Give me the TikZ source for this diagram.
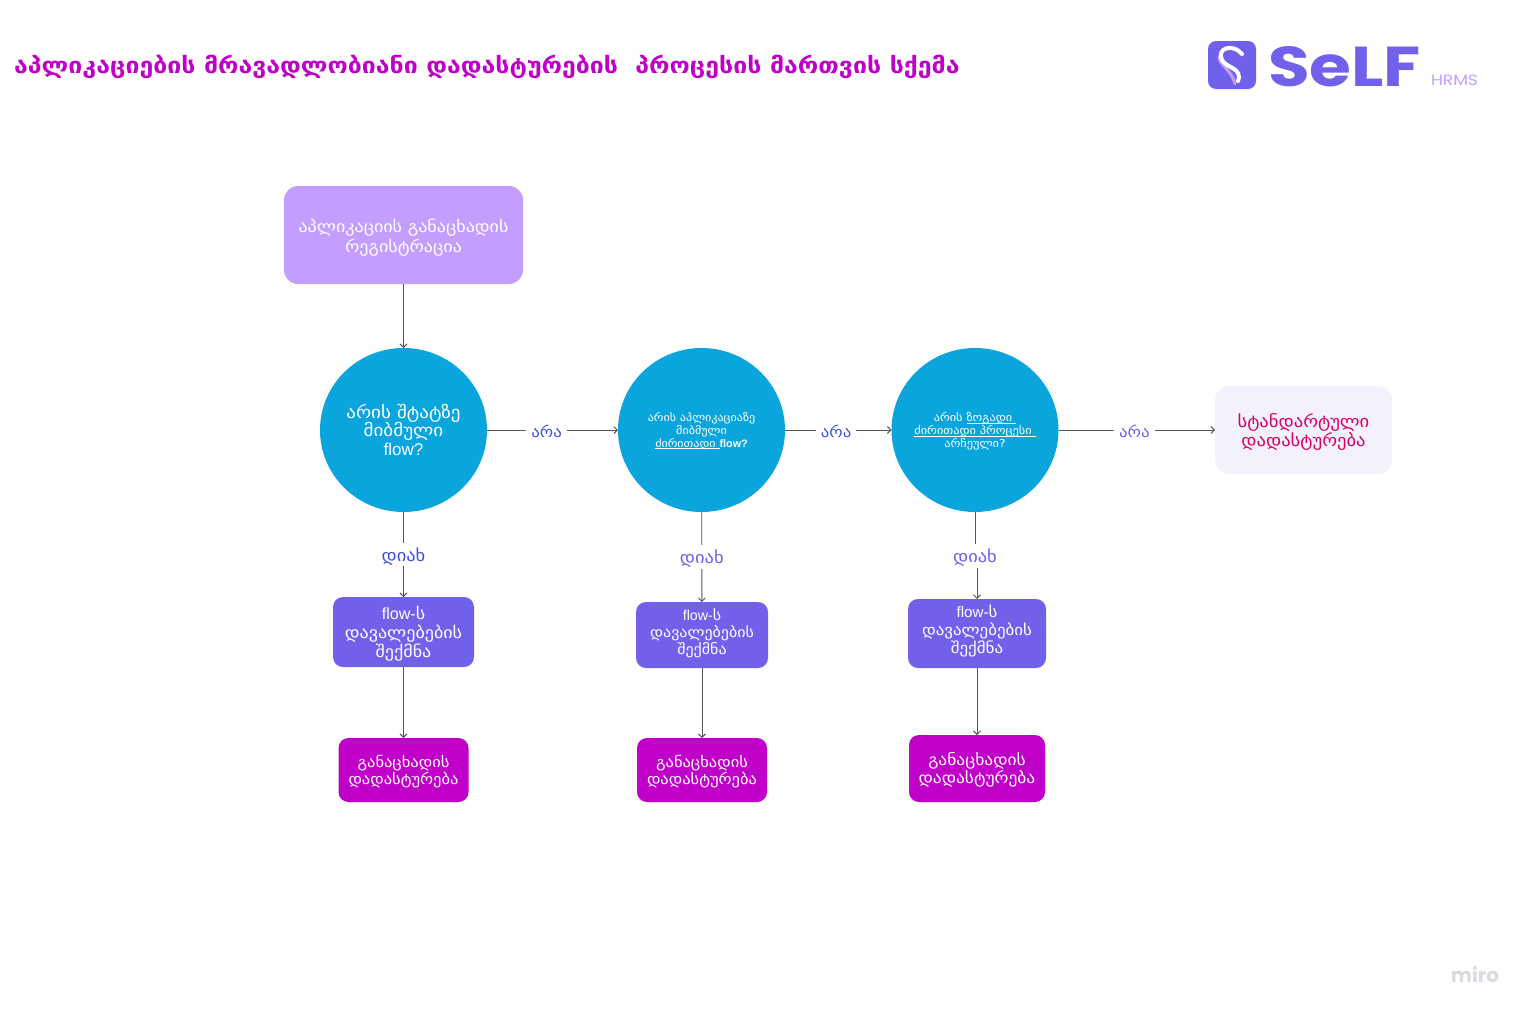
\documentclass[tikz,border=0pt]{standalone}
\usepackage{fontspec}
\usetikzlibrary{arrows.meta,shapes.geometric}
\setmainfont{Liberation Sans}
\newfontfamily\geo[FakeStretch=1.12]{DejaVu Sans}
\newfontfamily\logofont{Poppins}
\newcommand{\fs}[2]{\fontsize{#1}{#2}\selectfont}
\newcommand{\ulin}[1]{\underline{\smash{#1}}}
\newcommand{\shifted}[3]{\makebox[0pt][c]{\raisebox{#1}[0pt][0pt]{\parbox{#2}{\centering #3}}}}
\newcommand{\lowlab}[2]{\raisebox{#1}[\height][\depth]{#2}}
\definecolor{lilac}{HTML}{C39EFF}
\definecolor{skyc}{HTML}{0AA5DC}
\definecolor{taskc}{HTML}{7161EA}
\definecolor{magc}{HTML}{C000C8}
\definecolor{stdc}{HTML}{F3F1FC}
\definecolor{roseC}{HTML}{D4006A}
\definecolor{linec}{HTML}{555555}
\definecolor{yesb}{HTML}{3F51D8}
\definecolor{labc}{HTML}{6F5FE8}
\definecolor{miroc}{HTML}{D9DBE3}
\tikzset{
  boxn/.style={rectangle,inner sep=0pt,outer sep=0pt,text=white},
  circn/.style={ellipse,inner sep=0pt,outer sep=0pt,fill=skyc,text=white,minimum width=167,minimum height=164},
  conn/.style={draw=linec,line width=0.9,-{Straight Barb[length=3.5,width=7]}},
  labno/.style={fill=white,inner xsep=5pt,inner ysep=2pt,font=\geo\fs{15}{15},text=labc},
  labyes/.style={fill=white,inner xsep=3pt,inner ysep=3pt,font=\geo\fs{16.5}{16.5},text=labc}
}
\begin{document}
\begin{tikzpicture}[x=1pt,y=-1pt]
\useasboundingbox (0,0) rectangle (1534,1018);
\fill[white] (0,0) rectangle (1534,1018);
\node[anchor=west,inner sep=0,text=magc,font=\geo\bfseries\fs{22.2}{24}] (title) at (14,66.5) {აპლიკაციების მრავადლობიანი დადასტურების\ \ პროცესის მართვის სქემა};

% logo
\fill[taskc,rounded corners=8] (1208,41) rectangle (1256,89);
\draw[lilac,line width=3,line cap=round] (1219,57) .. controls (1219,65) and (1232,70) .. (1235,84);
\draw[white,line width=4,line cap=round] (1242,54) .. controls (1233,43) and (1216,48) .. (1222,60) .. controls (1226,68) and (1243,68) .. (1238,81);
\node[anchor=center,inner sep=0,text=taskc] (logotext) at (1344.5,66.5) {\resizebox{153pt}{40pt}{\logofont\bfseries SeLF}};
\node[anchor=center,inner sep=0,text=lilac] (hrms) at (1454.5,80) {\resizebox{47pt}{10.5pt}{\logofont HRMS}};

% nodes
\node[boxn,fill=lilac,rounded corners=14,minimum width=239,minimum height=98,font=\geo\fs{16.1}{20}] (reg) at (403.5,235) {\shifted{-7.5pt}{235pt}{აპლიკაციის განაცხადის\\რეგისტრაცია}};

\node[circn,font=\geo\fs{17}{18.7}] (c1) at (403.5,430) {\shifted{-4pt}{150pt}{არის შტატზე\\მიბმული\\{\rmfamily flow?}}};
\node[circn,font=\geo\fs{10.8}{12.8}] (c2) at (701.5,430) {\shifted{-3.5pt}{150pt}{არის აპლიკაციაზე\\მიბმული\\\ulin{ძირითადი\ }{\rmfamily\bfseries flow?}}};
\node[circn,font=\geo\fs{11}{12.8}] (c3) at (975,430) {\shifted{-4pt}{150pt}{არის \ulin{ზოგადი\ }\\\ulin{ძირითადი პროცესი\ }\\არჩეული?}};

\node[boxn,fill=stdc,rounded corners=14,minimum width=177,minimum height=88,font=\geo\fs{16.6}{19.5},text=roseC] (std) at (1303.5,430) {\shifted{-6.5pt}{170pt}{სტანდარტული\\დადასტურება}};

\node[boxn,fill=taskc,rounded corners=10,minimum width=141,minimum height=70,font=\geo\fs{16.1}{19}] (t1) at (403.5,632) {\shifted{-6pt}{130pt}{{\rmfamily flow-}ს\\დავალებების\\შექმნა}};
\node[boxn,fill=taskc,rounded corners=10,minimum width=132,minimum height=66,font=\geo\fs{14.25}{17}] (t2) at (702,635) {\shifted{-1.5pt}{125pt}{{\rmfamily flow-}ს\\დავალებების\\შექმნა}};
\node[boxn,fill=taskc,rounded corners=10,minimum width=138,minimum height=69,font=\geo\fs{15.1}{18}] (t3) at (977,633.5) {\shifted{-1pt}{130pt}{{\rmfamily flow-}ს\\დავალებების\\შექმნა}};

\node[boxn,fill=magc,rounded corners=10,minimum width=130,minimum height=64,font=\geo\fs{14.7}{17.5}] (d1) at (403.5,770) {\shifted{-5pt}{125pt}{განაცხადის\\დადასტურება}};
\node[boxn,fill=magc,rounded corners=10,minimum width=130,minimum height=64,font=\geo\fs{14.7}{17.5}] (d2) at (702,770) {\shifted{-5pt}{125pt}{განაცხადის\\დადასტურება}};
\node[boxn,fill=magc,rounded corners=10,minimum width=136,minimum height=67,font=\geo\fs{15.6}{18}] (d3) at (977,768.5) {\shifted{-5pt}{130pt}{განაცხადის\\დადასტურება}};

% connectors
\coordinate (m3) at (975,556);
\draw[conn] (reg) -- (c1);
\draw[conn] (c1.east) -- node[labno,text=yesb,pos=0.455]{\lowlab{-1pt}{არა}} (c2.west);
\draw[conn] (c2.east) -- node[labno,text=yesb,pos=0.48]{\lowlab{-1pt}{არა}} (c3.west);
\draw[conn] (c3.east) -- node[labno,pos=0.485]{\lowlab{-1pt}{არა}} (std.west);
\draw[conn] (c1) -- node[labyes,text=yesb,pos=0.5]{\lowlab{-2pt}{დიახ}} (t1);
\draw[conn] (c2) -- node[labyes,pos=0.5]{\lowlab{-2pt}{დიახ}} (t2);
\draw[conn] (c3.south) -- (m3) -- (m3 -| t3.north) -- (t3.north);
\node[labyes] (y3) at (m3) {\lowlab{-2pt}{დიახ}};
\draw[conn] (t1) -- (d1);
\draw[conn] (t2) -- (d2);
\draw[conn] (t3) -- (d3);

\node[anchor=center,inner sep=0,text=miroc,font=\logofont\bfseries\fs{20}{20}] (miro) at (1475,975) {miro};
\end{tikzpicture}
\end{document}
